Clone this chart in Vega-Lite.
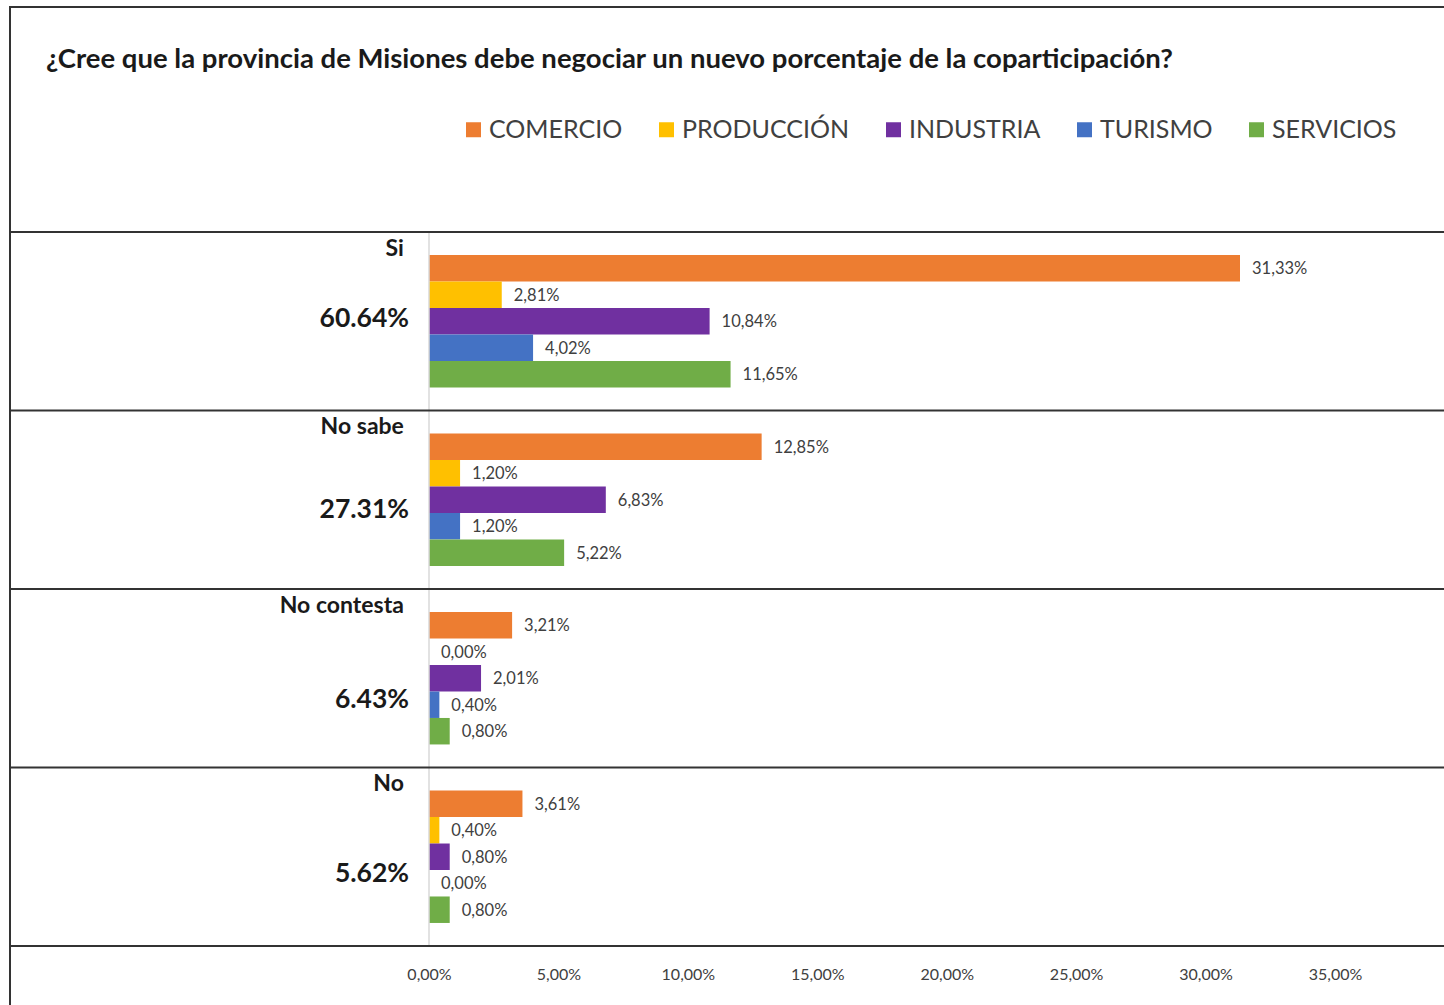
{
  "$schema": "https://vega.github.io/schema/vega-lite/v6.json",
  "autosize": "none",
  "padding": {"left": 10, "top": 7, "right": 0, "bottom": 0},
  "width": 1436,
  "height": 1000,
  "background": "white",
  "config": {
    "locale": {"number": {"decimal": ",", "thousands": ".", "grouping": [3], "currency": ["$", ""]}},
    "view": {"stroke": "#333333", "strokeWidth": 2},
    "font": "Lato"
  },
  "title": {
    "text": "¿Cree que la provincia de Misiones debe negociar un nuevo porcentaje de la coparticipación?",
    "anchor": "start", "frame": "group", "orient": "top", "offset": -80, "baseline": "middle", "dx": 36,
    "font": "Lato", "fontSize": 27.5, "fontWeight": "bold", "color": "#1a1a1a"
  },
  "datasets": {
    "bars": [
      {"cat": "Si", "sector": "COMERCIO", "value": 0.3133},
      {"cat": "Si", "sector": "PRODUCCIÓN", "value": 0.0281},
      {"cat": "Si", "sector": "INDUSTRIA", "value": 0.1084},
      {"cat": "Si", "sector": "TURISMO", "value": 0.0402},
      {"cat": "Si", "sector": "SERVICIOS", "value": 0.1165},
      {"cat": "No sabe", "sector": "COMERCIO", "value": 0.1285},
      {"cat": "No sabe", "sector": "PRODUCCIÓN", "value": 0.012},
      {"cat": "No sabe", "sector": "INDUSTRIA", "value": 0.0683},
      {"cat": "No sabe", "sector": "TURISMO", "value": 0.012},
      {"cat": "No sabe", "sector": "SERVICIOS", "value": 0.0522},
      {"cat": "No contesta", "sector": "COMERCIO", "value": 0.0321},
      {"cat": "No contesta", "sector": "PRODUCCIÓN", "value": 0.0},
      {"cat": "No contesta", "sector": "INDUSTRIA", "value": 0.0201},
      {"cat": "No contesta", "sector": "TURISMO", "value": 0.004},
      {"cat": "No contesta", "sector": "SERVICIOS", "value": 0.008},
      {"cat": "No", "sector": "COMERCIO", "value": 0.0361},
      {"cat": "No", "sector": "PRODUCCIÓN", "value": 0.004},
      {"cat": "No", "sector": "INDUSTRIA", "value": 0.008},
      {"cat": "No", "sector": "TURISMO", "value": 0.0},
      {"cat": "No", "sector": "SERVICIOS", "value": 0.008}
    ],
    "cats": [
      {"cat": "Si", "total": "60.64%"},
      {"cat": "No sabe", "total": "27.31%"},
      {"cat": "No contesta", "total": "6.43%"},
      {"cat": "No", "total": "5.62%"}
    ]
  },
  "layer": [
    {
      "data": {"name": "bars"},
      "mark": {"type": "bar"},
      "encoding": {
        "x": {
          "field": "value", "type": "quantitative",
          "scale": {"domain": [-0.16187, 0.39288], "nice": false, "zero": false},
          "axis": {
            "values": [0, 0.05, 0.1, 0.15, 0.2, 0.25, 0.3, 0.35], "format": ".2%", "orient": "bottom",
            "offset": -61, "domain": false, "ticks": false, "tickSize": 0, "grid": false,
            "labelPadding": 20, "labelFontSize": 16, "labelFont": "Lato", "labelColor": "#404040", "title": null
          }
        },
        "y": {
          "field": "cat", "type": "nominal", "sort": ["Si", "No sabe", "No contesta", "No"],
          "scale": {"domain": ["Si", "No sabe", "No contesta", "No"], "paddingInner": 0, "paddingOuter": 0.801, "align": 0.7867},
          "axis": null
        },
        "yOffset": {
          "field": "sector", "type": "nominal",
          "scale": {"domain": ["COMERCIO", "PRODUCCIÓN", "INDUSTRIA", "TURISMO", "SERVICIOS"], "paddingInner": 0, "paddingOuter": 0.87}
        },
        "color": {
          "field": "sector", "type": "nominal",
          "scale": {
            "domain": ["COMERCIO", "PRODUCCIÓN", "INDUSTRIA", "TURISMO", "SERVICIOS"],
            "range": ["#ED7D31", "#FFC000", "#7030A0", "#4472C4", "#70AD47"]
          },
          "legend": {
            "orient": "none", "legendX": 451, "legendY": 110, "direction": "horizontal", "title": null,
            "symbolType": "square", "symbolSize": 225, "symbolStrokeWidth": 0, "labelFontSize": 25,
            "labelFont": "Lato", "labelColor": "#404040", "labelOffset": 3, "columnPadding": 31, "labelLimit": 300
          }
        }
      }
    },
    {
      "data": {"name": "cats"},
      "mark": {"type": "rect", "fillOpacity": 0, "stroke": "#d9d9d9", "strokeWidth": 1.5},
      "encoding": {
        "x": {"datum": 0, "type": "quantitative"},
        "x2": {"datum": 0},
        "y": {"field": "cat", "type": "nominal"}
      }
    },
    {
      "data": {"name": "cats"},
      "mark": {"type": "rule", "stroke": "#333333", "strokeWidth": 2},
      "encoding": {
        "y": {"field": "cat", "type": "nominal", "bandPosition": 0}
      }
    },
    {
      "data": {"name": "cats"},
      "transform": [{"filter": "datum.cat == 'No'"}],
      "mark": {"type": "rule", "stroke": "#333333", "strokeWidth": 2},
      "encoding": {
        "y": {"field": "cat", "type": "nominal", "bandPosition": 1}
      }
    },
    {
      "data": {"name": "bars"},
      "mark": {"type": "text", "align": "left", "baseline": "middle", "dx": 12, "dy": 1, "fontSize": 16.5, "font": "Lato", "color": "#404040"},
      "encoding": {
        "x": {"field": "value", "type": "quantitative"},
        "y": {"field": "cat", "type": "nominal"},
        "yOffset": {"field": "sector", "type": "nominal"},
        "text": {"field": "value", "type": "quantitative", "format": ".2%"}
      }
    },
    {
      "data": {"name": "cats"},
      "mark": {"type": "text", "align": "right", "baseline": "middle", "fontSize": 23, "fontWeight": "bold", "font": "Lato", "color": "#1a1a1a"},
      "encoding": {
        "x": {"datum": -0.0097, "type": "quantitative"},
        "y": {"field": "cat", "type": "nominal", "bandPosition": 0.095},
        "text": {"field": "cat"}
      }
    },
    {
      "data": {"name": "cats"},
      "transform": [{"filter": "datum.cat == 'Si'"}],
      "mark": {"type": "text", "align": "right", "baseline": "middle", "fontSize": 26.5, "fontWeight": "bold", "font": "Lato", "color": "#1a1a1a"},
      "encoding": {
        "x": {"datum": -0.0077, "type": "quantitative"},
        "y": {"field": "cat", "type": "nominal", "bandPosition": 0.485},
        "text": {"field": "total"}
      }
    },
    {
      "data": {"name": "cats"},
      "transform": [{"filter": "datum.cat == 'No sabe'"}],
      "mark": {"type": "text", "align": "right", "baseline": "middle", "fontSize": 26.5, "fontWeight": "bold", "font": "Lato", "color": "#1a1a1a"},
      "encoding": {
        "x": {"datum": -0.0077, "type": "quantitative"},
        "y": {"field": "cat", "type": "nominal", "bandPosition": 0.557},
        "text": {"field": "total"}
      }
    },
    {
      "data": {"name": "cats"},
      "transform": [{"filter": "datum.cat == 'No contesta'"}],
      "mark": {"type": "text", "align": "right", "baseline": "middle", "fontSize": 26.5, "fontWeight": "bold", "font": "Lato", "color": "#1a1a1a"},
      "encoding": {
        "x": {"datum": -0.0077, "type": "quantitative"},
        "y": {"field": "cat", "type": "nominal", "bandPosition": 0.622},
        "text": {"field": "total"}
      }
    },
    {
      "data": {"name": "cats"},
      "transform": [{"filter": "datum.cat == 'No'"}],
      "mark": {"type": "text", "align": "right", "baseline": "middle", "fontSize": 26.5, "fontWeight": "bold", "font": "Lato", "color": "#1a1a1a"},
      "encoding": {
        "x": {"datum": -0.0077, "type": "quantitative"},
        "y": {"field": "cat", "type": "nominal", "bandPosition": 0.597},
        "text": {"field": "total"}
      }
    }
  ]
}
